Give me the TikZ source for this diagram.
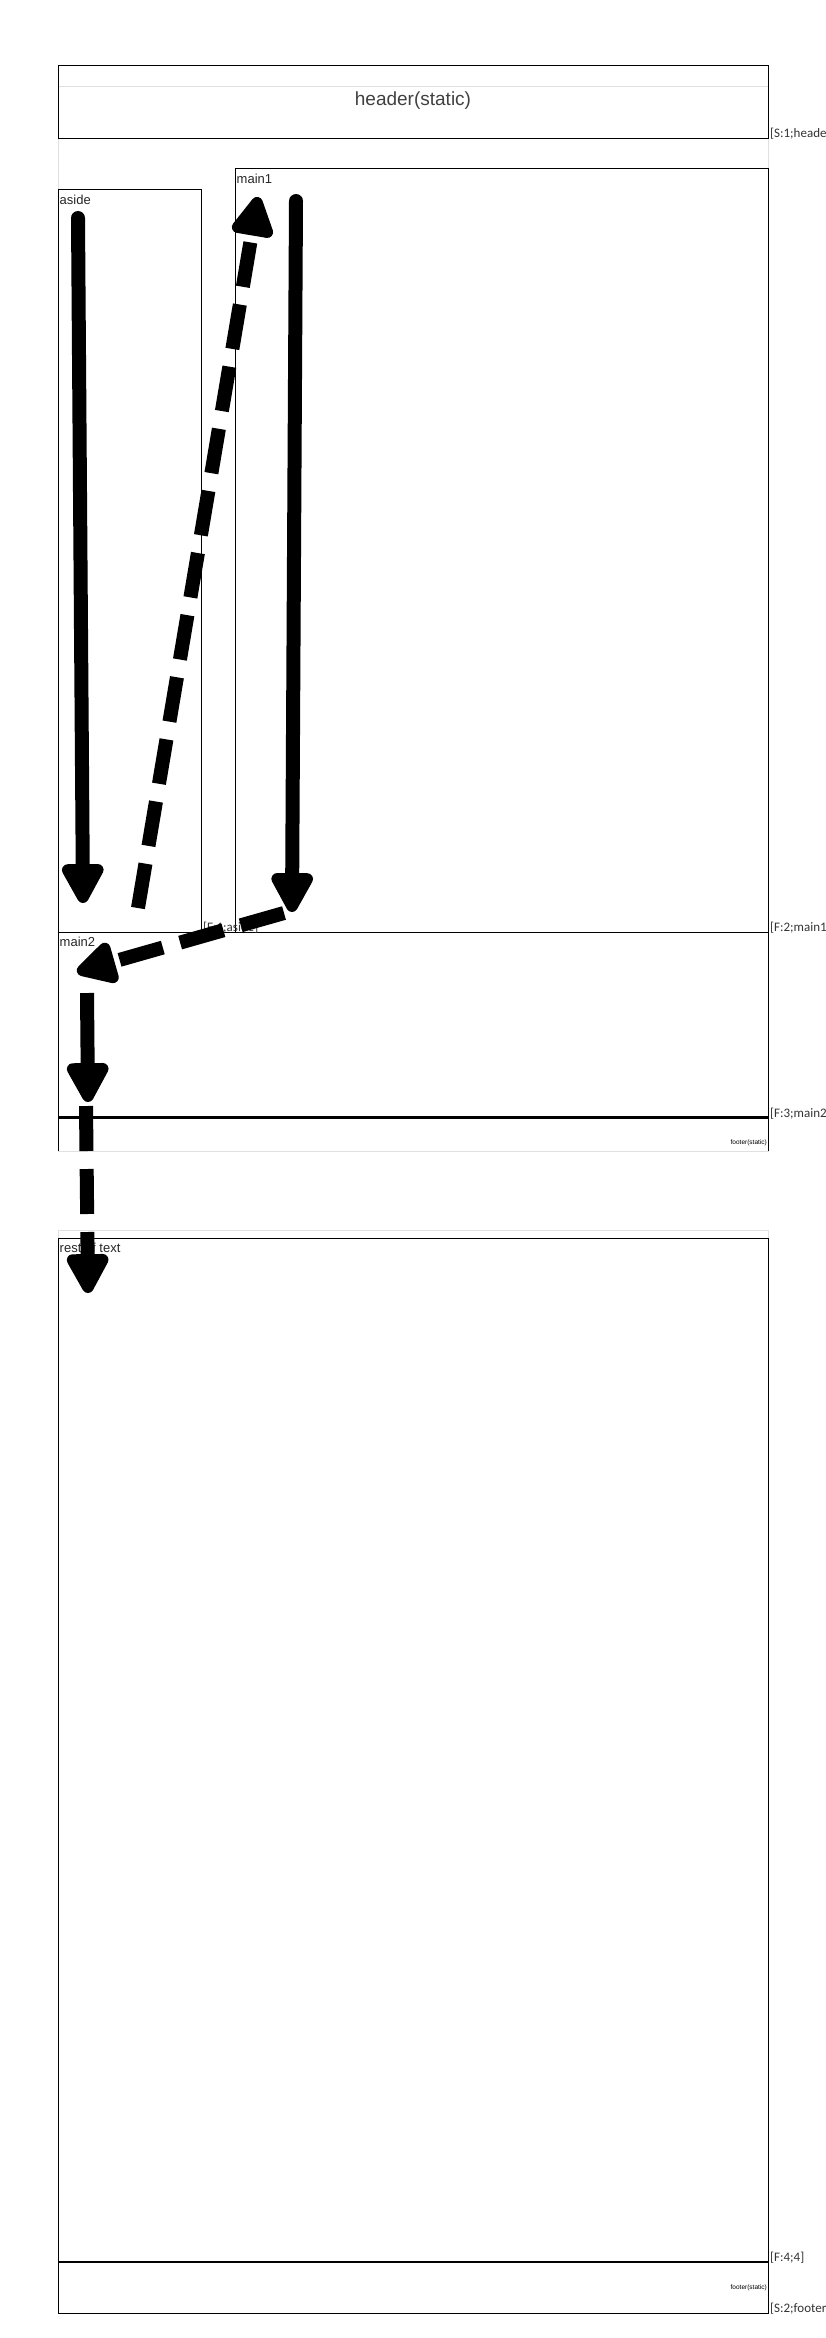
\documentclass[tikz,border=0pt]{standalone}
\usepackage{fontspec}
\setmainfont{Liberation Sans}
\newfontfamily\labfont{Carlito}
\usetikzlibrary{arrows.meta}
\begin{document}
\begin{tikzpicture}[x=1pt,y=-1pt,
  box/.style={draw=black,line width=1pt},
  gbox/.style={draw=black!12,line width=1pt},
  rule/.style={draw=black,line width=2.5pt},
  headtip/.style={-{Triangle[length=46pt,width=46pt,round]}},
  solidarrow/.style={line width=14pt, line cap=round, headtip},
  buttarrow/.style={line width=14pt, headtip},
  dasharrow/.style={line width=14pt, dash pattern=on 45pt off 18pt, headtip},
  lab/.style={font=\labfont\fontsize{13}{13}\selectfont, anchor=base west, inner sep=0pt, text=black!80},
  boxlab/.style={font=\fontsize{13}{13}\selectfont, anchor=base west, inner sep=0pt, text=black!85},
  foot/.style={font=\fontsize{6.5}{6.5}\selectfont, anchor=east, inner sep=0pt}
]
\useasboundingbox (0,0) rectangle (826,2338);
% light background regions
\draw[gbox] (58,86.7) rectangle (768,1151);
\draw[gbox] (58,1230.7) rectangle (768,2313);
% header
\draw[box] (58,65.7) rectangle (768,138);
\node[font=\fontsize{19}{19}\selectfont, text=black!75] (hdr) at (413,101) {header(static)};
% aside, main1, main2
\draw[box] (58,189) rectangle (201.7,932.3);
\draw[box] (235.3,168.3) rectangle (768,932.3);
\draw[box] (58,932.3) -- (58,1117.7) (768,932.3) -- (768,1117.7) (58,932.3) -- (768,932.3);
\draw[rule] (58,1117.7) -- (768,1117.7);
\draw[box] (58,1117.7) -- (58,1151) (768,1117.7) -- (768,1151);
% rest of text
\draw[box] (58,2262) -- (58,1238.3) -- (768,1238.3) -- (768,2262);
\draw[rule] (58,2262) -- (768,2262);
\draw[box] (58,2262) -- (58,2313) -- (768,2313) -- (768,2262);
% box labels
\node[boxlab] (laside) at (59.5,204) {aside};
\node[boxlab] (lmain1) at (236.5,183) {main1};
\node[boxlab] (lmain2) at (59.5,946) {main2};
\node[boxlab] (lrest) at (59.5,1252) {rest of text};
\node[foot] (f1) at (767,1143) {footer(static)};
\node[foot] (f2) at (767,2288) {footer(static)};
% side labels
\node[lab] (s1) at (770,137) {[S:1;header]};
\node[lab] (fl1) at (203,931.5) {[F:1;aside]};
\node[lab] (fl2) at (770,931.5) {[F:2;main1]};
\node[lab] (fl3) at (770,1117) {[F:3;main2]};
\node[lab] (fl4) at (770,2261) {[F:4;4]};
\node[lab] (s2) at (770,2312) {[S:2;footer]};
% arrow endpoints
\coordinate (a1) at (78,218);   \coordinate (a2) at (83,903);
\coordinate (b1) at (138,908);  \coordinate (b2) at (258,197);
\coordinate (c1) at (296,201);  \coordinate (c2) at (292,912);
\coordinate (d1) at (284,913);  \coordinate (d2) at (77,972);
\coordinate (e1) at (87,993);   \coordinate (e2) at (88,1102);
\coordinate (g1) at (86,1106);  \coordinate (g2) at (88,1293);
\draw[solidarrow] (a1) -- (a2);
\draw[dasharrow] (b1) -- (b2);
\draw[solidarrow] (c1) -- (c2);
\draw[dasharrow] (d1) -- (d2);
\draw[buttarrow] (e1) -- (e2);
\draw[dasharrow] (g1) -- (g2);
\end{tikzpicture}
\end{document}
